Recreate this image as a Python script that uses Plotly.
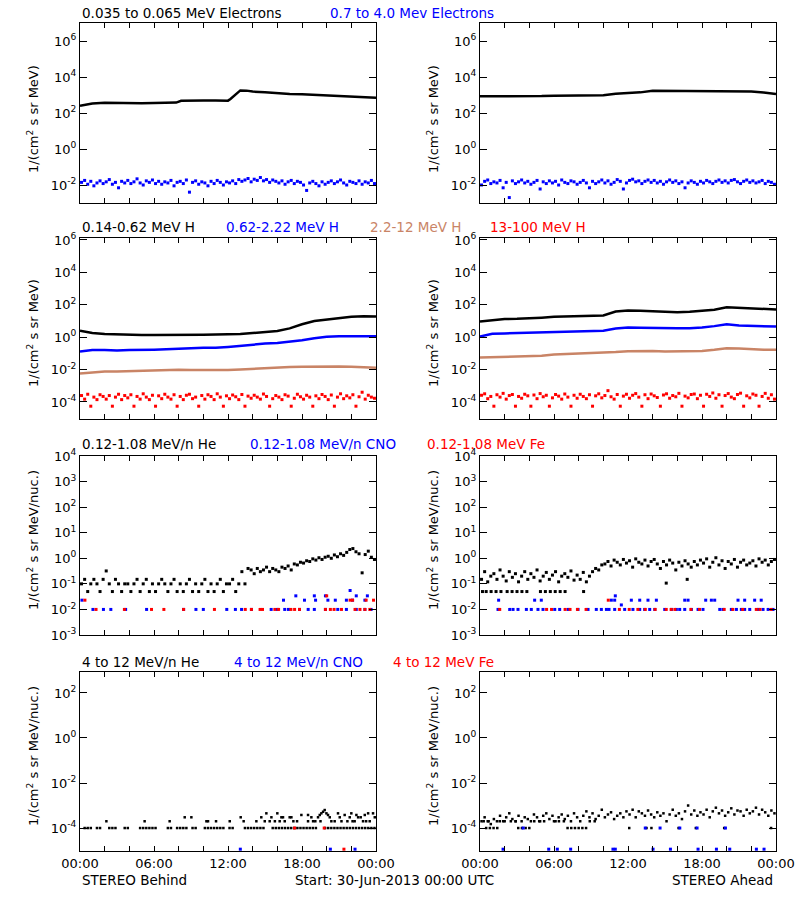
import plotly.graph_objects as go

# ---------------- time grids (hours after 30-Jun-2013 00:00 UTC) ----------------
HOURS = list(range(25))
QUARTERS = [0.125 + 0.25 * i for i in range(96)]

# ---------------- Row 1 : electrons ----------------
e_lo_behind_t = [0, 0.5, 1, 2, 3, 4, 5, 6, 7, 7.8, 8.2, 9, 10, 11, 12, 12.2, 12.5, 12.8, 13, 13.5,
                 14, 15, 16, 17, 18, 19, 20, 21, 22, 23, 24]
e_lo_behind = [250, 300, 340, 375, 355, 345, 350, 360, 372, 380, 480, 500, 490, 490, 485, 600, 900, 1400, 1800, 1750,
               1550, 1420, 1250, 1150, 1090, 1030, 960, 880, 800, 750, 710]
e_lo_ahead = [843, 840, 830, 815, 830, 880, 920, 950, 960, 965, 970, 1190, 1280, 1400, 1720, 1700, 1680, 1660,
              1680, 1690, 1680, 1650, 1540, 1360, 1150]

e_hi_behind = [0.014, 0.018, 0.011, 0.016, 0.009, 0.013, 0.017, 0.012, 0.015, 0.020, 0.011, 0.014, 0.007, 0.016, 0.013, 0.018,
               0.012, 0.015, 0.022, 0.013, 0.010, 0.017, 0.014, 0.019, 0.012, 0.016, 0.011, 0.015, 0.013, 0.018, 0.009, 0.014,
               0.016, 0.012, 0.019, 0.004, 0.014, 0.017, 0.011, 0.015, 0.013, 0.009, 0.016, 0.012, 0.018, 0.014, 0.010, 0.015,
               0.013, 0.017, 0.012, 0.020, 0.016, 0.019, 0.023, 0.015, 0.021, 0.018, 0.026, 0.017, 0.020, 0.014, 0.019, 0.016,
               0.013, 0.017, 0.011, 0.015, 0.018, 0.012, 0.016, 0.014, 0.010, 0.005, 0.013, 0.016, 0.012, 0.009, 0.015, 0.011,
               0.014, 0.017, 0.012, 0.015, 0.019, 0.013, 0.010, 0.016, 0.014, 0.012, 0.017, 0.011, 0.015, 0.013, 0.018, 0.012]
e_hi_ahead = [0.010, 0.016, 0.019, 0.012, 0.015, 0.013, 0.018, 0.007, 0.014, 0.002, 0.017, 0.012, 0.015, 0.019, 0.013, 0.016,
              0.011, 0.014, 0.018, 0.006, 0.015, 0.012, 0.017, 0.013, 0.016, 0.010, 0.019, 0.014, 0.012, 0.017, 0.015, 0.011,
              0.014, 0.018, 0.013, 0.007, 0.016, 0.012, 0.015, 0.019, 0.013, 0.017, 0.011, 0.014, 0.020, 0.016, 0.006, 0.013,
              0.018, 0.021, 0.015, 0.017, 0.012, 0.016, 0.019, 0.014, 0.018, 0.013, 0.016, 0.011, 0.015, 0.019, 0.014, 0.017,
              0.012, 0.015, 0.007, 0.013, 0.017, 0.014, 0.011, 0.016, 0.013, 0.018, 0.015, 0.012, 0.016, 0.019, 0.014, 0.017,
              0.013, 0.018, 0.020, 0.015, 0.012, 0.016, 0.019, 0.014, 0.017, 0.013, 0.015, 0.018, 0.012, 0.016, 0.014, 0.011]

# ---------------- Row 2 : protons ----------------
h1_behind = [2.5, 1.8, 1.55, 1.45, 1.4, 1.35, 1.35, 1.35, 1.3, 1.35, 1.4, 1.45, 1.5, 1.55, 1.8, 2.0, 2.4, 3.5,
             6.3, 10, 12.3, 14.8, 17.9, 19.7, 18.8]
h2_behind = [0.13, 0.16, 0.16, 0.15, 0.16, 0.16, 0.17, 0.18, 0.20, 0.21, 0.22, 0.22, 0.25, 0.30, 0.36, 0.40, 0.44,
             0.52, 0.65, 0.85, 1.05, 1.15, 1.18, 1.15, 1.12]
h3_behind = [0.0058, 0.0068, 0.0075, 0.0076, 0.0080, 0.0088, 0.0090, 0.0092, 0.0098, 0.0095, 0.0092, 0.0090, 0.0094,
             0.0100, 0.0112, 0.0125, 0.0135, 0.0145, 0.0150, 0.0155, 0.0160, 0.0155, 0.0150, 0.0140, 0.0130]
h4_behind = [2.5e-4, 1.5e-4, 3.0e-4, 5.5e-5, 2.0e-4, 1.4e-4, 2.8e-4, 2.2e-4,
             1.5e-4, 2.5e-4, 5.5e-5, 2.0e-4, 3.0e-4, 1.4e-4, 2.5e-4, 1.8e-4,
             2.8e-4, 5.5e-5, 2.2e-4, 1.5e-4, 3.2e-4, 2.0e-4, 1.4e-4, 2.6e-4,
             5.5e-5, 2.4e-4, 1.6e-4, 3.0e-4, 2.0e-4, 1.5e-4, 2.8e-4, 5.5e-5,
             2.2e-4, 1.4e-4, 2.6e-4, 3.0e-4, 1.6e-4, 2.0e-4, 5.5e-5, 2.5e-4,
             1.5e-4, 2.8e-4, 2.2e-4, 1.4e-4, 3.2e-4, 2.0e-4, 5.5e-5, 2.4e-4,
             1.6e-4, 2.7e-4, 2.1e-4, 1.4e-4, 2.9e-4, 5.5e-5, 2.3e-4, 1.7e-4,
             2.6e-4, 2.0e-4, 1.5e-4, 3.1e-4, 2.2e-4, 5.5e-5, 1.6e-4, 2.5e-4,
             2.0e-4, 1.4e-4, 2.8e-4, 2.3e-4, 5.5e-5, 1.7e-4, 3.0e-4, 2.1e-4,
             1.5e-4, 2.6e-4, 2.0e-4, 5.5e-5, 2.4e-4, 1.6e-4, 2.9e-4, 2.2e-4,
             1.4e-4, 2.7e-4, 5.5e-5, 2.0e-4, 3.2e-4, 1.6e-4, 2.4e-4, 1.8e-4,
             2.8e-4, 5.5e-5, 2.1e-4, 4.0e-4, 1.5e-4, 2.6e-4, 2.0e-4, 1.7e-4]

h1_ahead = [9.2, 11.5, 13, 13.5, 14, 16, 18, 19, 21, 20, 22, 38, 44, 43, 40, 37, 35, 37, 42, 50, 70, 66, 60, 56, 51]
h2_ahead = [1.1, 1.6, 1.7, 1.8, 1.9, 2.0, 2.2, 2.3, 2.4, 2.5, 2.5, 3.4, 3.9, 3.8, 3.6, 3.5, 3.5, 3.6, 3.9, 4.8,
            6.2, 5.2, 4.8, 4.6, 4.5]
h3_ahead = [0.055, 0.058, 0.062, 0.060, 0.065, 0.072, 0.085, 0.090, 0.095, 0.100, 0.105, 0.120, 0.135, 0.140,
            0.138, 0.132, 0.130, 0.132, 0.140, 0.165, 0.210, 0.200, 0.180, 0.170, 0.165]
h4_ahead = [2.6e-4, 3.2e-4, 1.6e-4, 2.2e-4, 5.5e-5, 2.8e-4, 2.0e-4, 3.4e-4,
            1.5e-4, 2.5e-4, 2.9e-4, 5.5e-5, 2.2e-4, 1.7e-4, 3.0e-4, 2.4e-4,
            5.5e-5, 2.7e-4, 1.6e-4, 3.3e-4, 2.1e-4, 2.6e-4, 5.5e-5, 1.8e-4,
            2.9e-4, 2.3e-4, 1.5e-4, 3.1e-4, 2.0e-4, 5.5e-5, 2.6e-4, 1.7e-4,
            3.0e-4, 2.2e-4, 1.6e-4, 2.8e-4, 5.5e-5, 2.4e-4, 3.2e-4, 1.8e-4,
            2.5e-4, 5.0e-4, 2.1e-4, 1.5e-4, 2.9e-4, 5.5e-5, 2.3e-4, 3.0e-4,
            1.7e-4, 2.6e-4, 3.3e-4, 2.0e-4, 5.5e-5, 2.8e-4, 1.6e-4, 3.1e-4,
            2.4e-4, 1.9e-4, 5.5e-5, 2.7e-4, 3.2e-4, 1.7e-4, 2.5e-4, 2.1e-4,
            3.4e-4, 5.5e-5, 2.3e-4, 1.8e-4, 2.9e-4, 3.1e-4, 1.6e-4, 2.6e-4,
            5.5e-5, 3.0e-4, 2.2e-4, 3.6e-4, 1.7e-4, 2.8e-4, 5.5e-5, 2.5e-4,
            3.3e-4, 2.0e-4, 1.6e-4, 2.9e-4, 3.5e-4, 5.5e-5, 2.4e-4, 1.8e-4,
            3.1e-4, 2.6e-4, 5.5e-5, 2.2e-4, 3.4e-4, 1.7e-4, 2.8e-4, 1.5e-4]

# ---------------- Row 3 : 0.12-1.08 MeV/n ions ----------------
he_lo_behind = [0.10, 0.15, 0.05, 0.10, 0.15, 0.10, 0.05, 0.15,
                0.32, 0.10, 0.05, 0.15, 0.10, 0.05, 0.10, 0.10,
                0.05, 0.10, 0.15, 0.05, 0.10, 0.15, 0.05, 0.10,
                0.05, 0.10, 0.15, 0.10, 0.05, 0.10, 0.15, 0.05,
                0.10, 0.05, 0.10, 0.15, 0.05, 0.10, 0.05, 0.10,
                0.15, 0.05, 0.10, 0.05, 0.10, 0.15, 0.05, 0.10,
                0.10, 0.15, 0.05, 0.10, 0.30, 0.10, 0.40, 0.35,
                0.25, 0.40, 0.30, 0.35, 0.45, 0.30, 0.40, 0.35,
                0.30, 0.45, 0.40, 0.50, 0.35, 0.60, 0.55, 0.70,
                0.65, 0.80, 0.75, 0.95, 0.85, 1.05, 0.90, 1.10,
                1.20, 1.00, 1.35, 1.15, 1.50, 1.30, 1.70, 2.20,
                2.40, 1.80, 1.50, 0.27, 1.40, 1.90, 1.10, 0.90]
cno_lo_behind_t = [0.16, 1.05, 1.9, 2.5, 3.7, 5.4, 8.4, 9.4, 10.0, 11.9, 12.6, 13.1, 13.9, 15.5, 16.0, 16.5, 16.6,
                   16.9, 17.5, 17.8, 18.2, 18.5, 19.0, 19.0, 19.1, 19.9, 19.9, 20.1, 20.7, 20.9, 21.6, 21.6, 21.9,
                   22.1, 22.4, 22.4, 23.1, 23.1, 23.3, 23.6]
cno_lo_behind = [0.023, 0.01, 0.01, 0.01, 0.01, 0.01, 0.01, 0.01, 0.01, 0.01, 0.01, 0.01, 0.01, 0.01, 0.01, 0.023, 0.01,
                 0.01, 0.034, 0.01, 0.023, 0.01, 0.034, 0.01, 0.023, 0.034, 0.01, 0.023, 0.023, 0.01, 0.01, 0.023, 0.055,
                 0.023, 0.034, 0.01, 0.01, 0.023, 0.034, 0.01]
fe_lo_behind_t = [0.4, 1.3, 3.6, 5.8, 6.8, 8.4, 10.9, 13.4, 13.9, 14.6, 14.8, 15.8, 16.1, 17.1, 17.4, 17.8, 19.9, 20.0,
                  20.3, 20.6, 21.2, 21.9, 22.1, 22.3, 22.7, 23.1, 23.2, 23.5, 23.8]
fe_lo_behind = [0.023, 0.01, 0.01, 0.01, 0.01, 0.01, 0.01, 0.01, 0.01, 0.01, 0.01, 0.01, 0.01, 0.01, 0.01, 0.01, 0.01, 0.034,
                0.01, 0.01, 0.01, 0.023, 0.023, 0.01, 0.01, 0.01, 0.023, 0.01, 0.023]

he_lo_ahead = [0.15, 0.30, 0.12, 0.20, 0.25, 0.15, 0.35, 0.20,
               0.13, 0.30, 0.18, 0.25, 0.12, 0.20, 0.30, 0.15,
               0.25, 0.18, 0.35, 0.13, 0.20, 0.28, 0.15, 0.22,
               0.30, 0.12, 0.20, 0.25, 0.18, 0.32, 0.14, 0.22,
               0.15, 0.28, 0.12, 0.20, 0.30, 0.40, 0.35, 0.55,
               0.60, 0.75, 0.50, 0.85, 0.70, 0.55, 0.90, 0.65,
               0.80, 0.45, 0.95, 0.70, 0.60, 0.85, 0.50, 0.75,
               0.90, 0.60, 0.40, 0.75, 0.55, 0.85, 0.65, 0.35,
               0.70, 0.50, 0.80, 0.60, 0.45, 0.75, 0.55, 0.85,
               0.65, 0.95, 0.45, 0.70, 1.05, 0.55, 0.80, 0.40,
               0.75, 0.60, 0.90, 0.45, 0.70, 0.85, 0.55, 0.65,
               0.80, 0.50, 0.95, 0.70, 0.85, 0.55, 0.75, 0.90]
he_lo_ahead_low_t = [0.2, 0.5, 0.9, 1.3, 1.7, 2.2, 2.6, 3.0, 3.4, 3.8, 4.9, 5.3, 5.7, 6.1, 6.5, 6.9, 8.4, 15.1, 16.8]
he_lo_ahead_low = [0.05, 0.05, 0.05, 0.05, 0.05, 0.05, 0.05, 0.05, 0.05, 0.05, 0.05, 0.05, 0.05, 0.05, 0.05, 0.05,
                   0.05, 0.107, 0.15]
cno_lo_ahead_t = [1.46, 2.41, 2.68, 3.08, 3.76, 4.16, 4.7, 5.11, 6.06, 6.46, 7.14, 7.95, 8.76, 9.43, 9.84, 10.25,
                  10.46, 10.92, 11.73, 12.4, 12.95, 13.35, 13.76, 14.17, 14.98, 15.52, 15.92, 16.19, 16.6, 17.14,
                  17.68, 18.08, 19.44, 19.7, 20.38, 20.79, 21.19, 21.46, 21.87, 22.55, 22.95, 23.36, 23.76,
                  1.51, 4.43, 4.97, 10.65, 10.92, 12.27, 12.95, 13.62, 14.3, 16.6, 16.87, 18.3, 18.76, 19.03,
                  20.92, 21.46, 22.27, 22.8, 10.97, 11.46]
cno_lo_ahead = [0.01, 0.01, 0.01, 0.01, 0.01, 0.01, 0.01, 0.01, 0.01, 0.01, 0.01, 0.01, 0.01, 0.01, 0.01, 0.01,
                0.01, 0.01, 0.01, 0.01, 0.01, 0.01, 0.01, 0.01, 0.01, 0.01, 0.01, 0.01, 0.01, 0.01,
                0.01, 0.01, 0.01, 0.01, 0.01, 0.01, 0.01, 0.01, 0.01, 0.01, 0.01, 0.01, 0.01,
                0.023, 0.023, 0.023, 0.023, 0.023, 0.023, 0.023, 0.023, 0.023, 0.023, 0.023, 0.023, 0.023, 0.023,
                0.023, 0.023, 0.023, 0.023, 0.034, 0.015]
fe_lo_ahead_t = [1.6, 5.4, 5.8, 6.9, 7.3, 7.9, 8.6, 11.3, 12.1, 12.8, 13.4, 14.2, 15.1, 15.5, 15.8, 17.1, 17.8, 19.8,
                 20.5, 21.3, 22.4, 22.7, 23.6, 10.4]
fe_lo_ahead = [0.01, 0.01, 0.01, 0.01, 0.01, 0.01, 0.01, 0.01, 0.01, 0.01, 0.01, 0.01, 0.01, 0.01, 0.01, 0.01, 0.01,
               0.01, 0.01, 0.01, 0.01, 0.01, 0.01, 0.023]

# ---------------- Row 4 : 4-12 MeV/n ions ----------------
he_hi_behind_base = [None, 1e-4, 1e-4, 1e-4, None, 1e-4, 1e-4, None, None, 1e-4, 1e-4, 1e-4, None, None, 1e-4, 1e-4,
                     None, None, None, 1e-4, 1e-4, 1e-4, 1e-4, 1e-4, 1e-4, None, None, None, 1e-4, 1e-4, None, 1e-4,
                     1e-4, 1e-4, 1e-4, None, 1e-4, 1e-4, None, None, 1e-4, 1e-4, 1e-4, 1e-4, 1e-4, 1e-4, 1e-4, None,
                     1e-4, 1e-4, None, None, None, 1e-4, 1e-4, 1e-4, 1e-4, 1e-4, 1e-4, 1e-4, None, None, 1e-4, 1e-4,
                     1e-4, 1e-4, 1e-4, 1e-4, 1e-4, 1e-4, 1e-4, 1e-4, 1e-4, 1e-4, 1e-4, 1e-4, 1e-4, None, None, 1e-4,
                     1e-4, 1e-4, 1e-4, 1e-4, 1e-4, 1e-4, 1e-4, 1e-4, 1e-4, 1e-4, 1e-4, 1e-4, 1e-4, 1e-4, 1e-4, 1e-4]
he_hi_behind_t = [2.14, 5.24, 7.27, 8.49, 9.03, 10.25, 10.38, 11.03, 12.14, 13.03, 13.27, 14.3, 14.7, 14.98, 15.11,
                  15.38, 15.52, 16.0, 16.19, 16.33, 16.46, 17.0, 17.14, 17.95, 18.49, 18.49, 18.76, 18.9, 19.08, 19.3,
                  19.44, 19.57, 19.71, 19.84, 19.98, 20.11, 20.25, 20.38, 20.65, 20.92, 21.06, 21.46, 21.68, 21.87,
                  22.0, 22.27, 22.41, 22.55, 22.76, 22.95, 23.09, 23.36, 23.49, 23.76, 23.9,
                  15.8, 16.6, 17.3, 17.6, 19.5, 21.2, 22.1, 23.2]
he_hi_behind = [2e-4, 2e-4, 2e-4, 3e-4, 3e-4, 2e-4, 2e-4, 2e-4, 2e-4, 3e-4, 2e-4, 2e-4, 3e-4, 2e-4, 4.5e-4,
                2e-4, 3e-4, 4.5e-4, 2e-4, 3e-4, 3e-4, 3e-4, 3e-4, 3.8e-4, 2e-4, 3.8e-4, 3e-4, 2e-4, 2e-4, 3e-4,
                3.8e-4, 4.5e-4, 5.3e-4, 6.3e-4, 4.5e-4, 3.8e-4, 3e-4, 2e-4, 2e-4, 4.5e-4, 3e-4, 3.8e-4, 2e-4, 3e-4,
                4.5e-4, 2e-4, 3.8e-4, 3e-4, 3e-4, 2e-4, 3.8e-4, 4.5e-4, 2e-4, 4.5e-4, 3e-4,
                2e-4, 2e-4, 2e-4, 2e-4, 2e-4, 2e-4, 2e-4, 2e-4]
cno_hi_behind_t = [13.0, 20.3, 22.3]
cno_hi_behind = [1.15e-5, 1.15e-5, 1.15e-5]
fe_hi_behind_t = [17.4, 19.8, 21.4]
fe_hi_behind = [1e-4, 1e-4, 1.15e-5]

he_hi_ahead = [2.0e-4, 3.0e-4, 2.0e-4, 1.5e-4, 2.5e-4, 2.0e-4, 3.5e-4, 2.0e-4,
               3.0e-4, 4.5e-4, 2.5e-4, 2.0e-4, 3.5e-4, 2.0e-4, 3.0e-4, 2.5e-4,
               2.0e-4, 4.0e-4, 3.0e-4, 2.0e-4, 3.5e-4, 4.5e-4, 2.5e-4, 3.5e-4,
               2.0e-4, 3.0e-4, 4.0e-4, 2.5e-4, 3.5e-4, 2.0e-4, 4.5e-4, 3.0e-4,
               2.0e-4, 3.5e-4, 5.5e-4, 3.0e-4, 4.5e-4, 2.5e-4, 3.5e-4, 6.5e-4,
               3.0e-4, 4.0e-4, 5.0e-4, 2.5e-4, 3.5e-4, 4.5e-4, 3.0e-4, 5.5e-4,
               4.0e-4, 6.5e-4, 3.0e-4, 5.5e-4, 4.5e-4, 3.5e-4, 6.0e-4, 4.0e-4,
               3.0e-4, 5.0e-4, 3.5e-4, 4.5e-4, 2.0e-4, 4.0e-4, 6.5e-4, 3.5e-4,
               4.5e-4, 2.5e-4, 5.5e-4, 1.0e-3, 4.0e-4, 6.0e-4, 3.5e-4, 5.0e-4,
               4.0e-4, 6.5e-4, 3.0e-4, 5.5e-4, 8.0e-4, 4.5e-4, 6.0e-4, 3.5e-4,
               5.0e-4, 7.5e-4, 4.0e-4, 6.0e-4, 5.5e-4, 3.5e-4, 6.5e-4, 4.5e-4,
               5.5e-4, 8.0e-4, 4.0e-4, 6.5e-4, 5.0e-4, 3.5e-4, 6.0e-4, 4.5e-4]
he_hi_ahead_base_t = [0.5, 0.8, 1.1, 1.4, 3.1, 3.4, 3.7, 4.0, 7.1, 7.4, 7.7, 8.0, 8.3, 8.6, 12.1, 13.5, 13.9, 16.1,
                      17.5, 19.8, 23.6, 0.3, 0.7, 1.6, 2.0, 2.5, 2.9, 4.4, 4.8, 5.2, 6.0, 6.4, 6.8, 8.9, 9.3]
he_hi_ahead_base = [1e-4, 1e-4, 1e-4, 1e-4, 1e-4, 1e-4, 1e-4, 1e-4, 1e-4, 1e-4, 1e-4, 1e-4, 1e-4, 1e-4, 1e-4, 1e-4,
                    1e-4, 1e-4, 1e-4, 1e-4, 1e-4, 2e-4, 2e-4, 2e-4, 2e-4, 2e-4, 2e-4, 2e-4, 2e-4, 2e-4, 2e-4, 2e-4,
                    2e-4, 2e-4, 2e-4]
cno_hi_ahead_t = [3.5, 13.4, 14.6, 16.2, 17.6, 19.9,
                  1.87, 5.57, 6.27, 7.35, 10.78, 10.97, 14.03, 15.44, 17.68, 19.17, 20.25, 22.41, 23.03]
cno_hi_ahead = [1e-4, 1e-4, 1e-4, 1e-4, 1e-4, 1e-4,
                1.15e-5, 1.15e-5, 1.15e-5, 1.15e-5, 1.15e-5, 1.15e-5, 1.15e-5, 1.15e-5, 1.15e-5, 1.15e-5,
                1.15e-5, 1.15e-5, 1.15e-5]

# ---------------- labels ----------------
TIME_TICKS = [0, 2, 4, 6, 8, 10, 12, 14, 16, 18, 20, 22, 24]
TIME_LABELS = ["00:00", "", "", "06:00", "", "", "12:00", "", "", "18:00", "", "", "00:00"]

BLACK, BLUE, BROWN, RED = "#000000", "#0000ff", "#c98466", "#ff0000"
FONT = "DejaVu Sans"
FS = 13
TS = 13.5

W, H = 800, 900


def px_x(p):
    return p / W


def px_y(p):
    return 1 - p / H


fig = go.Figure()


def line(k, x, y, color):
    fig.add_trace(go.Scatter(x=x, y=y, mode="lines", line=dict(color=color, width=2.5),
                             xaxis=f"x{k}", yaxis=f"y{k}", showlegend=False, hoverinfo="skip"))


def dots(k, x, y, color, size=3):
    fig.add_trace(go.Scatter(x=x, y=y, mode="markers",
                             marker=dict(color=color, size=size, symbol="square", line=dict(width=0)),
                             xaxis=f"x{k}", yaxis=f"y{k}", showlegend=False, hoverinfo="skip"))


# Row 1
line(1, e_lo_behind_t, e_lo_behind, BLACK)
dots(1, QUARTERS, e_hi_behind, BLUE)
line(2, HOURS, e_lo_ahead, BLACK)
dots(2, QUARTERS, e_hi_ahead, BLUE)
# Row 2
line(3, HOURS, h1_behind, BLACK)
line(3, HOURS, h2_behind, BLUE)
line(3, HOURS, h3_behind, BROWN)
dots(3, QUARTERS, h4_behind, RED)
line(4, HOURS, h1_ahead, BLACK)
line(4, HOURS, h2_ahead, BLUE)
line(4, HOURS, h3_ahead, BROWN)
dots(4, QUARTERS, h4_ahead, RED)
# Row 3
dots(5, QUARTERS, he_lo_behind, BLACK)
dots(5, cno_lo_behind_t, cno_lo_behind, BLUE)
dots(5, fe_lo_behind_t, fe_lo_behind, RED)
dots(6, QUARTERS, he_lo_ahead, BLACK)
dots(6, he_lo_ahead_low_t, he_lo_ahead_low, BLACK)
dots(6, cno_lo_ahead_t, cno_lo_ahead, BLUE)
dots(6, fe_lo_ahead_t, fe_lo_ahead, RED)
# Row 4
dots(7, QUARTERS, he_hi_behind_base, BLACK, 2.5)
dots(7, he_hi_behind_t, he_hi_behind, BLACK, 2.5)
dots(7, cno_hi_behind_t, cno_hi_behind, BLUE)
dots(7, fe_hi_behind_t, fe_hi_behind, RED)
dots(8, QUARTERS, he_hi_ahead, BLACK, 2.5)
dots(8, he_hi_ahead_base_t, he_hi_ahead_base, BLACK, 2.5)
dots(8, cno_hi_ahead_t, cno_hi_ahead, BLUE)


def sup(e):
    return "10<sup>" + str(e) + "</sup>"


# panel boxes in window pixels: (top, bottom) per row, (left, right) per column
rows = [
    dict(box=(23, 203), rng=[-3, 7], exps=[-2, 0, 2, 4, 6]),
    dict(box=(238, 419), rng=[-5.05, 6.12], exps=[-4, -2, 0, 2, 4, 6]),
    dict(box=(456, 635), rng=[-3, 4], exps=[-3, -2, -1, 0, 1, 2, 3, 4]),
    dict(box=(672, 851), rng=[-5.02, 2.93], exps=[-4, -2, 0, 2]),
]
cols = [(80, 376), (480, 776)]

lay = {}
k = 0
for ri, r in enumerate(rows):
    for ci, c in enumerate(cols):
        k += 1
        lay[f"xaxis{k}"] = dict(domain=[px_x(c[0]), px_x(c[1])], range=[0, 24], anchor=f"y{k}", tickmode="array",
                                tickvals=TIME_TICKS, ticktext=TIME_LABELS, ticks="inside", ticklen=5,
                                tickcolor="black", mirror="allticks", showline=True, linecolor="black",
                                linewidth=1, showgrid=False, zeroline=False, showticklabels=(ri == 3),
                                automargin=False,
                                tickfont=dict(family=FONT, size=FS, color="black"), fixedrange=True)
        lay[f"yaxis{k}"] = dict(domain=[px_y(r["box"][1]), px_y(r["box"][0])], type="log", range=r["rng"],
                                anchor=f"x{k}",
                                tickmode="array", tickvals=[10.0 ** e for e in r["exps"]],
                                ticktext=[sup(e) for e in r["exps"]], ticks="inside", ticklen=7,
                                tickcolor="black", mirror="allticks", showline=True, linecolor="black",
                                linewidth=1, showgrid=False, zeroline=False, automargin=False,
                                tickfont=dict(family=FONT, size=FS, color="black"), fixedrange=True)

ann = []


def text(x_px, y_px, s, color="black", anchor="left", angle=0, size=FS):
    ann.append(dict(x=px_x(x_px), y=px_y(y_px), xref="paper", yref="paper", text=s, showarrow=False,
                    xanchor=anchor, yanchor="middle", textangle=angle,
                    font=dict(family=FONT, size=size, color=color)))


# panel titles
text(80, 13, "0.035 to 0.065 MeV Electrons", size=TS)
text(328, 13, "0.7 to 4.0 Mev Electrons", BLUE, size=TS)
text(80, 227, "0.14-0.62 MeV H", size=TS)
text(224, 227, "0.62-2.22 MeV H", BLUE, size=TS)
text(368, 227, "2.2-12 MeV H", BROWN, size=TS)
text(488, 227, "13-100 MeV H", RED, size=TS)
text(80, 444, "0.12-1.08 MeV/n He", size=TS)
text(248, 444, "0.12-1.08 MeV/n CNO", BLUE, size=TS)
text(425, 444, "0.12-1.08 MeV Fe", RED, size=TS)
text(80, 662, "4 to 12 MeV/n He", size=TS)
text(232, 662, "4 to 12 MeV/n CNO", BLUE, size=TS)
text(391, 662, "4 to 12 MeV Fe", RED, size=TS)

# y-axis titles
for xc in (33, 433):
    text(xc, 119, "1/(cm<sup>2</sup> s sr MeV)", anchor="center", angle=-90)
    text(xc, 333, "1/(cm<sup>2</sup> s sr MeV)", anchor="center", angle=-90)
    text(xc, 540, "1/(cm<sup>2</sup> s sr MeV/nuc.)", anchor="center", angle=-90)
    text(xc, 756, "1/(cm<sup>2</sup> s sr MeV/nuc.)", anchor="center", angle=-90)

# footer
text(80, 880, "STEREO Behind", size=TS)
text(293, 880, "Start: 30-Jun-2013 00:00 UTC", size=TS)
text(775, 880, "STEREO Ahead", anchor="right", size=TS)

fig.update_layout(template="none", width=W, height=H, margin=dict(l=0, r=0, t=0, b=0, pad=0),
                  paper_bgcolor="white", plot_bgcolor="white", showlegend=False, annotations=ann,
                  font=dict(family=FONT, size=FS, color="black"), **lay)

# drop the page's default 8 px body margin so the 800x900 figure fills the window exactly
fig.write_html("out.html", config={"displayModeBar": False, "staticPlot": True},
               post_script="document.body.style.margin='0';")
